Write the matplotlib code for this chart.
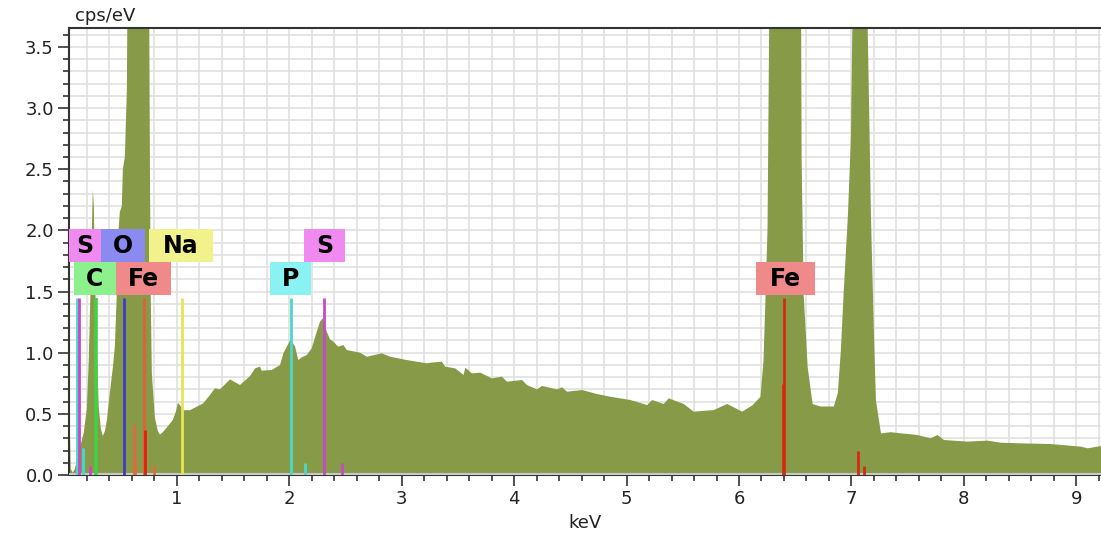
import matplotlib
matplotlib.use("Agg")
import matplotlib.pyplot as plt
from matplotlib.patches import Rectangle
from matplotlib.ticker import MultipleLocator

# ---------------- data ----------------
energy_kev = [0.030, 0.047, 0.056, 0.074, 0.092, 0.110, 0.136, 0.172, 0.199, 0.216,
              0.234, 0.243, 0.252, 0.261, 0.270, 0.288, 0.305, 0.323, 0.341, 0.360,
              0.377, 0.403, 0.430, 0.448, 0.466, 0.475, 0.492, 0.510, 0.519, 0.537,
              0.555, 0.564, 0.580, 0.650, 0.724, 0.750, 0.760, 0.768, 0.777, 0.804,
              0.830, 0.849, 0.875, 0.911, 0.964, 0.991, 1.009, 1.027, 1.053,
              1.116, 1.234, 1.294, 1.338, 1.383, 1.472, 1.561, 1.650, 1.695, 1.739,
              1.754, 1.843, 1.917, 1.947, 1.977, 2.012, 2.051, 2.080, 2.110, 2.155,
              2.199, 2.244, 2.273, 2.297, 2.333, 2.362, 2.392, 2.436, 2.481, 2.511,
              2.630, 2.689, 2.823, 2.897, 3.045, 3.223,
              3.253, 3.357, 3.386, 3.475, 3.550, 3.565, 3.624, 3.698, 3.802, 3.891,
              3.936, 4.069, 4.114, 4.203, 4.248, 4.381, 4.426, 4.470, 4.604, 4.737,
              4.856, 5.034, 5.183, 5.227, 5.330, 5.375, 5.508, 5.597, 5.776, 5.895,
              6.028, 6.120, 6.191,
              6.218, 6.236, 6.254, 6.263, 6.281, 6.415, 6.548, 6.557, 6.575, 6.611,
              6.655, 6.727, 6.843, 6.879, 6.906, 6.932, 6.968, 6.995, 7.013, 7.075,
              7.138, 7.156, 7.174, 7.200, 7.218, 7.263, 7.350,
              7.438, 7.587, 7.705, 7.765, 7.824, 8.032, 8.210, 8.329, 8.507, 8.774,
              9.041, 9.101, 9.219, 9.230]
counts_cps = [0.39, 0.39, 0.05, 0.02, 0.05, 0.12, 0.22, 0.35, 0.55, 0.95,
              1.60, 2.00, 2.33, 2.20, 1.70, 1.00, 0.55, 0.38, 0.32, 0.36,
              0.45, 0.67, 0.88, 1.05, 1.50, 1.92, 2.15, 2.20, 2.50, 2.60,
              3.16, 4.50, 6.00, 8.00, 6.00, 4.50, 2.50, 1.40, 0.83, 0.47,
              0.36, 0.33, 0.35, 0.39, 0.45, 0.52, 0.59, 0.57, 0.53,
              0.530, 0.586, 0.654, 0.709, 0.700, 0.782, 0.736, 0.809, 0.872, 0.886,
              0.853, 0.859, 0.899, 0.995, 1.049, 1.109, 1.049, 0.940, 0.962, 0.981,
              1.036, 1.172, 1.254, 1.281, 1.172, 1.109, 1.090, 1.049, 1.063, 1.022,
              1.000, 0.967, 0.995, 0.967, 0.940, 0.913,
              0.918, 0.927, 0.886, 0.872, 0.818, 0.878, 0.831, 0.837, 0.790, 0.804,
              0.763, 0.777, 0.736, 0.700, 0.728, 0.700, 0.717, 0.681, 0.695, 0.662,
              0.640, 0.613, 0.572, 0.613, 0.581, 0.627, 0.581, 0.518, 0.531, 0.581,
              0.518, 0.570, 0.640,
              0.94, 1.46, 2.03, 3.09, 5.00, 12.0, 5.00, 2.58, 1.48, 0.88,
              0.58, 0.56, 0.56, 0.67, 1.02, 1.51, 2.11, 2.74, 4.00, 6.00,
              4.00, 3.07, 2.11, 1.16, 0.61, 0.34, 0.35,
              0.341, 0.327, 0.300, 0.327, 0.286, 0.273, 0.281, 0.264, 0.259, 0.253,
              0.232, 0.218, 0.237, 0.240]

# element marker lines (keV, height in cps/eV)
c_lines_kev, c_lines_h = [0.277], [1.45]
o_lines_kev, o_lines_h = [0.525], [1.45]
na_lines_kev, na_lines_h = [1.041], [1.45]
p_lines_kev, p_lines_h = [2.013, 2.139, 0.110, 0.165], [1.45, 0.10, 1.45, 0.22]
s_lines_kev, s_lines_h = [2.307, 2.464, 0.130, 0.225], [1.45, 0.10, 1.45, 0.07]
fe_lines_kev = [6.404, 6.391, 7.058, 7.110, 0.705, 0.718, 0.615, 0.628, 0.792]
fe_lines_h = [1.45, 0.74, 0.20, 0.07, 1.45, 0.37, 0.41, 0.12, 0.07]

# element labels: text, box left/right edge (keV), row (0 = upper, 1 = lower)
label_text = ["S", "O", "Na", "C", "Fe", "P", "S", "Fe"]
label_left = [0.029, 0.324, 0.751, 0.083, 0.457, 1.828, 2.131, 6.147]
label_right = [0.324, 0.715, 1.321, 0.457, 0.947, 2.193, 2.496, 6.672]
label_row = [0, 0, 0, 1, 1, 1, 0, 1]
label_color = ["#f08af0", "#8a8af0", "#f2f28c", "#8cf08c", "#f08a8a",
               "#8af2f2", "#f08af0", "#f08a8a"]

x_ticks = [1, 2, 3, 4, 5, 6, 7, 8, 9]
y_ticks = [0.0, 0.5, 1.0, 1.5, 2.0, 2.5, 3.0, 3.5]

# ---------------- figure ----------------
W, H = 1101, 534
fig = plt.figure(figsize=(W / 100, H / 100), dpi=100)
ax = fig.add_axes([69 / W, 59 / H, (W - 69) / W, 447 / H])

ax.fill_between(energy_kev, 0, counts_cps, color="#879a48", lw=0, zorder=2)
ax.axhline(0.012, color="#c8c8c8", lw=1.5, zorder=3)

def draw_lines(xs, hs, color, lw=2.0):
    ax.vlines(xs, 0, hs, colors=color, lw=lw, zorder=4)

draw_lines(c_lines_kev, c_lines_h, "#44d044", 2.6)
draw_lines(o_lines_kev, o_lines_h, "#3c3cc8")
draw_lines(na_lines_kev, na_lines_h, "#e6e650")
draw_lines(p_lines_kev, p_lines_h, "#48d8cc")
draw_lines(s_lines_kev, s_lines_h, "#c848c8")
draw_lines(fe_lines_kev[:4], fe_lines_h[:4], "#d42a10")
draw_lines(fe_lines_kev[4:5], fe_lines_h[4:5], "#e0603a")
draw_lines(fe_lines_kev[5:6], fe_lines_h[5:6], "#e81c10")
draw_lines(fe_lines_kev[6:], fe_lines_h[6:], "#e06a40")

row_bottom = [1.742, 1.472]
row_h = 0.27
for t, l, r, row, col in zip(label_text, label_left, label_right, label_row, label_color):
    y0 = row_bottom[row]
    ax.add_patch(Rectangle((l, y0), r - l, row_h, facecolor=col, edgecolor="none", zorder=5))
    ax.text((l + r) / 2, y0 + row_h / 2 - 0.005, t, ha="center", va="center",
            fontsize=17, fontweight="bold", color="black", zorder=6)

ax.set_xlim(0.04, 9.22)
ax.set_ylim(0, 3.655)

ax.set_xticks(x_ticks)
ax.set_xticklabels([str(v) for v in x_ticks])
ax.xaxis.set_minor_locator(MultipleLocator(0.2))
ax.set_yticks(y_ticks)
ax.set_yticklabels([f"{v:.1f}" for v in y_ticks])
ax.yaxis.set_minor_locator(MultipleLocator(0.1))

ax.tick_params(which="major", length=8, width=1.2, color="#333333",
               labelsize=13, labelcolor="#222222", pad=3)
ax.tick_params(which="minor", length=4.5, width=1.2, color="#333333")
ax.tick_params(axis="x", which="both", top=False)
ax.tick_params(axis="y", which="both", right=False)

ax.grid(which="both", color="#e0e0e0", lw=1.2)
ax.set_axisbelow(True)

for side in ["left", "bottom", "top"]:
    ax.spines[side].set_color("#333333")
    ax.spines[side].set_linewidth(1.5)
ax.spines["right"].set_visible(False)

ax.set_xlabel("keV", fontsize=13, color="#222222", labelpad=4)
fig.text(75 / W, 1 - 16 / H, "cps/eV", fontsize=13, color="#222222", va="center", ha="left")

fig.savefig("out.png", dpi=100)
